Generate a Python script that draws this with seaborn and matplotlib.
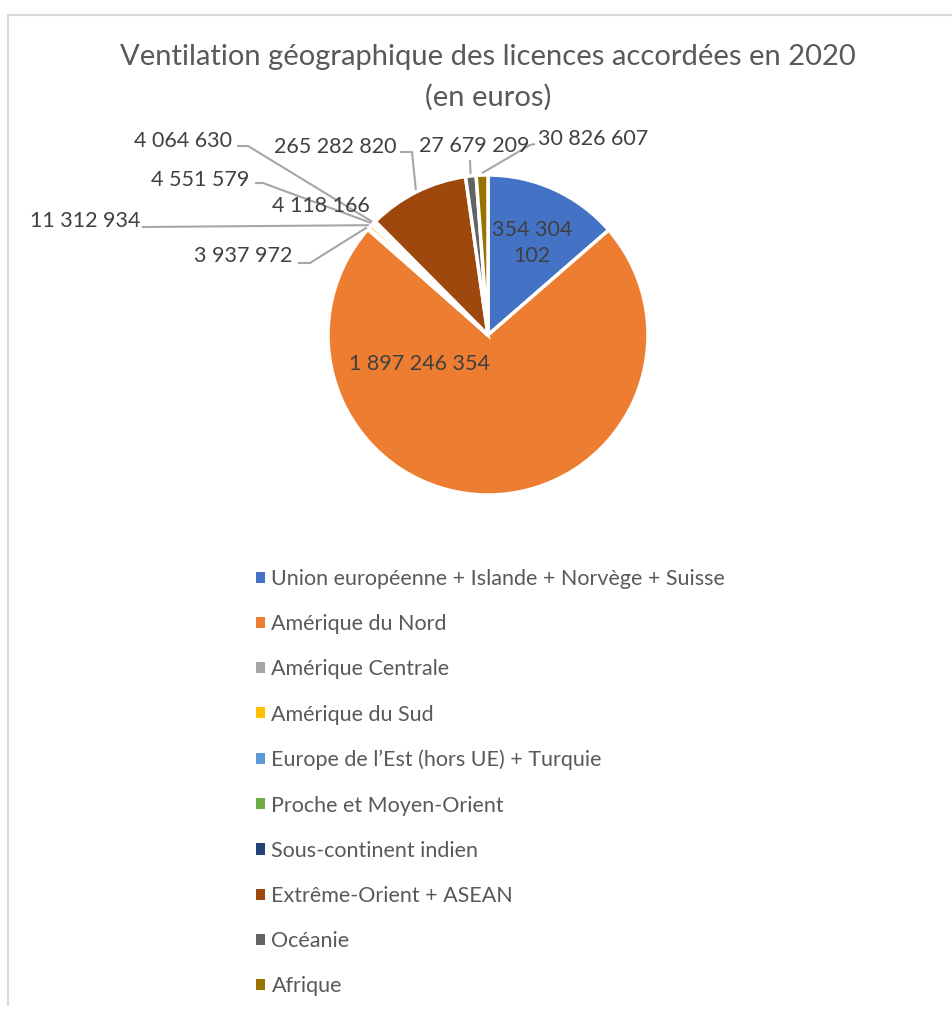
import numpy as np
import matplotlib.pyplot as plt
import matplotlib.patches as mpatches
from matplotlib.lines import Line2D
import seaborn as sns

# --- data ---
categories = [
    "Union européenne + Islande + Norvège + Suisse",
    "Amérique du Nord",
    "Amérique Centrale",
    "Amérique du Sud",
    "Europe de l\u2019Est (hors UE) + Turquie",
    "Proche et Moyen-Orient",
    "Sous-continent indien",
    "Extrême-Orient + ASEAN",
    "Océanie",
    "Afrique",
]
values = [354304102, 1897246354, 3937972, 11312934, 4551579,
          4064630, 4118166, 265282820, 27679209, 30826607]
colors = ["#4472C4", "#ED7D31", "#A5A5A5", "#FFC000", "#5B9BD5",
          "#70AD47", "#264478", "#9E480E", "#636363", "#997300"]

title_lines = ["Ventilation géographique des licences accordées en 2020", "(en euros)"]

# --- style ---
sns.set_style("white")
plt.rcParams["font.family"] = ["Lato", "DejaVu Sans"]
W, H = 953, 1010
txt_col = "#404040"
grey_txt = "#595959"
line_col = "#A6A6A6"
fs = 15.5

fig = plt.figure(figsize=(W / 100, H / 100), dpi=100)
ax = fig.add_axes([0, 0, 1, 1])

cx, cy, r = 488, H - 335, 160
wedges, _ = ax.pie(values, colors=sns.color_palette(colors), startangle=90,
                   counterclock=False, center=(cx, cy), radius=r,
                   wedgeprops=dict(edgecolor="white", linewidth=2.5))
ax.set_xlim(0, W)
ax.set_ylim(0, H)
ax.set_aspect("equal")
ax.axis("off")


def fmt(v):
    return f"{v:,}".replace(",", " ")


def P(x, y):
    # pixel (from top) -> data coords
    return x, H - y


# inside labels
ax.text(*P(532, 243), "354 304\n102", ha="center", va="center",
        fontsize=fs, color=txt_col, linespacing=1.35)
ax.text(*P(420, 364), fmt(values[1]), ha="center", va="center",
        fontsize=fs, color=txt_col)

# outside labels: index -> (text left x, text y, leader path start points)
outside = {
    2: ((194, 256), [(298, 263), (310, 263)]),
    3: ((30, 221), [(142, 227)]),
    4: ((151, 180), [(255, 183), (263, 183)]),
    5: ((134, 141), [(237, 146), (248, 146)]),
    6: ((272, 206), None),
    7: ((274, 147), [(400, 152), (412, 152)]),
    8: ((419, 146), [(470, 160)]),
    9: ((538, 139), [(535, 144), (530, 145)]),
}
for i, ((tx, ty), path) in outside.items():
    ax.text(*P(tx, ty), fmt(values[i]), ha="left", va="center",
            fontsize=fs, color=txt_col)
    if path is None:
        continue
    w = wedges[i]
    mid = np.deg2rad((w.theta1 + w.theta2) / 2)
    ex, ey = cx + (r + 2) * np.cos(mid), cy + (r + 2) * np.sin(mid)
    xs = [p[0] for p in path] + [ex]
    ys = [H - p[1] for p in path] + [ey]
    ax.plot(xs, ys, color=line_col, lw=1.5, solid_capstyle="butt")

# title
for k, line in enumerate(title_lines):
    fig.text(488 / W, 1 - (57 + 40 * k) / H, line, ha="center", va="center",
             fontsize=21, color=grey_txt)

# legend
handles = [mpatches.Patch(facecolor=c, edgecolor="none") for c in colors]
fig.legend(handles, categories, loc="upper left",
           bbox_to_anchor=(256 / W, 1 - 569 / H), frameon=False,
           fontsize=fs, labelcolor=grey_txt, handlelength=0.42,
           handleheight=0.42, handletextpad=0.3, labelspacing=1.17,
           borderpad=0, borderaxespad=0)

# chart frame
fig.add_artist(Line2D([8 / W, 1], [1 - 15 / H, 1 - 15 / H],
                      transform=fig.transFigure, color="#D9D9D9", lw=1.5))
fig.add_artist(Line2D([8 / W, 8 / W], [1 - 15 / H, 1 - 1005 / H],
                      transform=fig.transFigure, color="#D9D9D9", lw=1.5))

fig.savefig("out.png", dpi=100, facecolor="white")
